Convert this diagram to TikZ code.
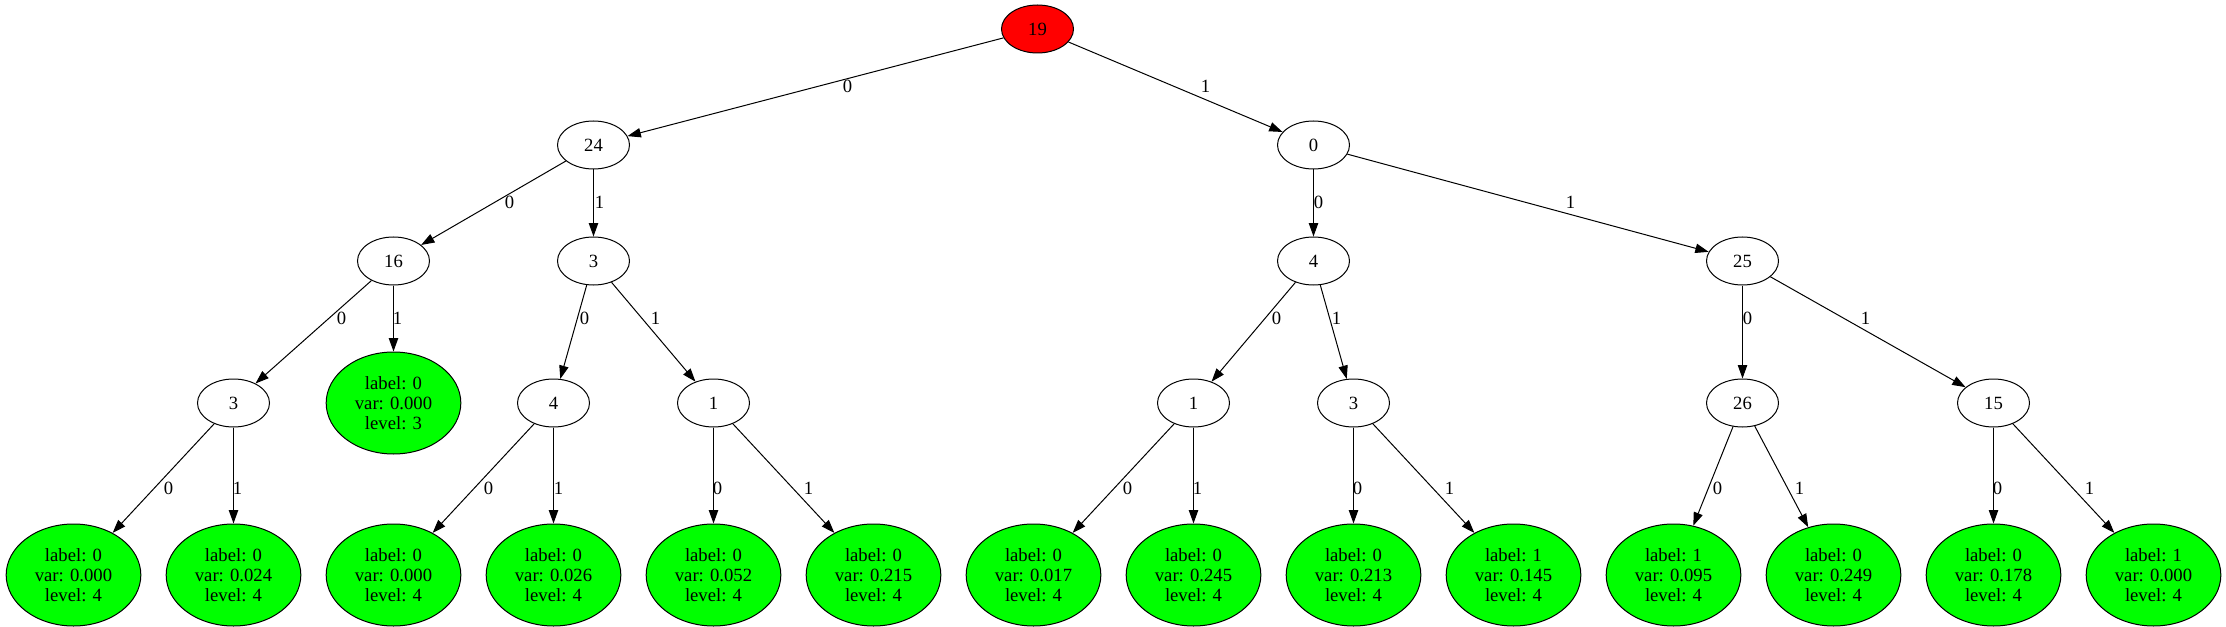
\documentclass[tikz,border=0pt]{standalone}
\usepackage{fontspec}
\setmainfont{Liberation Serif}
\usetikzlibrary{shapes.geometric,arrows.meta}
\definecolor{rootred}{RGB}{255,0,0}
\definecolor{leafgreen}{RGB}{0,255,0}
\tikzset{
  inode/.style={ellipse, draw, line width=0.75pt, minimum width=54pt, minimum height=36pt, inner sep=0pt, font=\fontsize{14}{15}\selectfont},
  rootnode/.style={inode, fill=rootred},
  leafnode/.style={ellipse, draw, line width=0.75pt, fill=leafgreen, minimum width=101pt, minimum height=76.5pt, inner sep=0pt, align=center, font=\fontsize{14}{15}\selectfont},
  edge/.style={draw, line width=0.75pt, -{Triangle[length=10pt,width=7pt]}},
  lbl/.style={font=\fontsize{14}{15}\selectfont, inner sep=0pt}
}
\newcommand{\leaftext}[3]{label: #1\\var: #2\\level: #3}
\begin{document}
\begin{tikzpicture}[x=0.75pt,y=-0.75pt]
\useasboundingbox (0,0) rectangle (2226,627);
\begin{scope}[xshift=0.375pt]
% internal nodes
\node[rootnode] (r) at (1037,29) {19};
\node[inode] (n24) at (593,145) {24};
\node[inode] (n0) at (1313,145) {0};
\node[inode] (n16) at (393,261) {16};
\node[inode] (n3a) at (593,261) {3};
\node[inode] (n4a) at (1313,261) {4};
\node[inode] (n25) at (1742,261) {25};
\node[inode] (n3b) at (233,403) {3};
\node[leafnode] (lf3) at (393,403) {\leaftext{0}{0.000}{3}};
\node[inode] (n4b) at (553,403) {4};
\node[inode] (n1a) at (713,403) {1};
\node[inode] (n1b) at (1193,403) {1};
\node[inode] (n3c) at (1353,403) {3};
\node[inode] (n26) at (1742,403) {26};
\node[inode] (n15) at (1993,403) {15};
% leaves
\node[leafnode] (l1) at (73,575) {\leaftext{0}{0.000}{4}};
\node[leafnode] (l2) at (233,575) {\leaftext{0}{0.024}{4}};
\node[leafnode] (l3) at (393,575) {\leaftext{0}{0.000}{4}};
\node[leafnode] (l4) at (553,575) {\leaftext{0}{0.026}{4}};
\node[leafnode] (l5) at (713,575) {\leaftext{0}{0.052}{4}};
\node[leafnode] (l6) at (873,575) {\leaftext{0}{0.215}{4}};
\node[leafnode] (l7) at (1033,575) {\leaftext{0}{0.017}{4}};
\node[leafnode] (l8) at (1193,575) {\leaftext{0}{0.245}{4}};
\node[leafnode] (l9) at (1353,575) {\leaftext{0}{0.213}{4}};
\node[leafnode] (l10) at (1513,575) {\leaftext{1}{0.145}{4}};
\node[leafnode] (l11) at (1673,575) {\leaftext{1}{0.095}{4}};
\node[leafnode] (l12) at (1833,575) {\leaftext{0}{0.249}{4}};
\node[leafnode] (l13) at (1993,575) {\leaftext{0}{0.178}{4}};
\node[leafnode] (l14) at (2153,575) {\leaftext{1}{0.000}{4}};
% edges
\draw[edge] (r) -- (n24) node[lbl] at (847,86) {0};
\draw[edge] (r) -- (n0) node[lbl] at (1205,86) {1};
\draw[edge] (n24) -- (n16) node[lbl] at (509,202) {0};
\draw[edge] (n24) -- (n3a) node[lbl] at (599,202) {1};
\draw[edge] (n0) -- (n4a) node[lbl] at (1318,202) {0};
\draw[edge] (n0) -- (n25) node[lbl] at (1570,202) {1};
\draw[edge] (n16) -- (n3b) node[lbl] at (341,318) {0};
\draw[edge] (n16) -- (lf3) node[lbl] at (397,318) {1};
\draw[edge] (n3a) -- (n4b) node[lbl] at (584,318) {0};
\draw[edge] (n3a) -- (n1a) node[lbl] at (655,318) {1};
\draw[edge] (n4a) -- (n1b) node[lbl] at (1276,318) {0};
\draw[edge] (n4a) -- (n3c) node[lbl] at (1336,318) {1};
\draw[edge] (n25) -- (n26) node[lbl] at (1747,318) {0};
\draw[edge] (n25) -- (n15) node[lbl] at (1865,318) {1};
\draw[edge] (n3b) -- (l1) node[lbl] at (168,488) {0};
\draw[edge] (n3b) -- (l2) node[lbl] at (237,488) {1};
\draw[edge] (n4b) -- (l3) node[lbl] at (488,488) {0};
\draw[edge] (n4b) -- (l4) node[lbl] at (558,488) {1};
\draw[edge] (n1a) -- (l5) node[lbl] at (717,488) {0};
\draw[edge] (n1a) -- (l6) node[lbl] at (808,488) {1};
\draw[edge] (n1b) -- (l7) node[lbl] at (1127,488) {0};
\draw[edge] (n1b) -- (l8) node[lbl] at (1197,488) {1};
\draw[edge] (n3c) -- (l9) node[lbl] at (1357,488) {0};
\draw[edge] (n3c) -- (l10) node[lbl] at (1449,488) {1};
\draw[edge] (n26) -- (l11) node[lbl] at (1717,488) {0};
\draw[edge] (n26) -- (l12) node[lbl] at (1799,488) {1};
\draw[edge] (n15) -- (l13) node[lbl] at (1997,488) {0};
\draw[edge] (n15) -- (l14) node[lbl] at (2089,488) {1};
\end{scope}
\end{tikzpicture}
\end{document}
